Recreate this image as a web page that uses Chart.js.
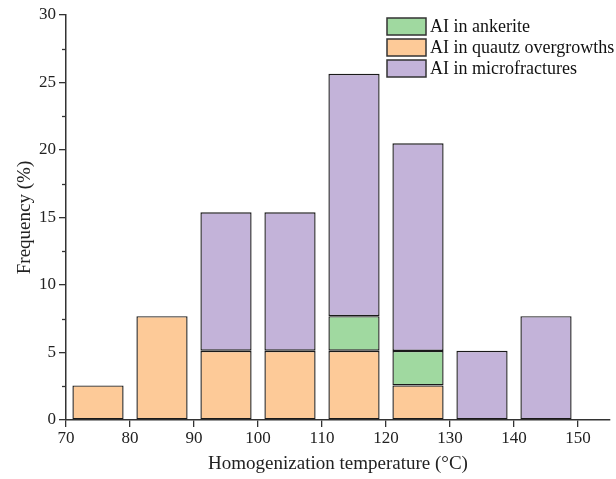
<!DOCTYPE html>
<html>
<head>
<meta charset="utf-8">
<script src="https://cdn.jsdelivr.net/npm/chart.js@4/dist/chart.umd.min.js"></script>
<style>
  html, body { margin: 0; padding: 0; background: #fff; }
  #wrap { width: 616px; height: 479px; }
</style>
</head>
<body>
<div id="wrap"><canvas id="c" width="616" height="479"></canvas></div>
<script>
// Homogenization temperature bins (bin centres, °C)
const temps = [75, 85, 95, 105, 115, 125, 135, 145];
// Frequency (%) by inclusion host
const quartz   = [2.56, 7.69, 5.13, 5.13, 5.13, 2.56, 0, 0];
const ankerite = [0, 0, 0, 0, 2.56, 2.56, 0, 0];
const micro    = [0, 0, 10.26, 10.26, 17.95, 15.38, 5.13, 7.69];
const xTicks = [70, 80, 90, 100, 110, 120, 130, 140, 150];
const yTicks = [0, 5, 10, 15, 20, 25, 30];

const labels = {
  ankerite: 'AI in ankerite',
  quartz: 'AI in quautz overgrowths',
  micro: 'AI in microfractures'
};
const colors = {
  ankerite: '#a0d9a0',
  quartz: '#fdca98',
  micro: '#c3b3d9'
};

const SERIF = '"Liberation Serif", "Times New Roman", serif';
const AXIS = '#333';

// only non-empty bins become bars
function pts(vals) {
  const out = [];
  temps.forEach((t, i) => { if (vals[i] > 0) out.push({ x: t, y: vals[i] }); });
  return out;
}

function ds(key, vals) {
  return {
    label: labels[key],
    data: pts(vals),
    backgroundColor: colors[key],
    borderColor: '#1a1a1a',
    borderWidth: 1.4,
    borderSkipped: false,
    barPercentage: 0.8,
    categoryPercentage: 1.0
  };
}

// Minor ticks on the y axis, half way between labels
const minorTicks = {
  id: 'minorTicks',
  afterDraw(chart) {
    const y = chart.scales.y;
    const ctx = chart.ctx;
    ctx.save();
    ctx.strokeStyle = AXIS;
    ctx.lineWidth = 1.3;
    for (let i = 0; i < yTicks.length - 1; i++) {
      const v = (yTicks[i] + yTicks[i + 1]) / 2;
      const py = Math.round(y.getPixelForValue(v)) + 0.5;
      ctx.beginPath();
      ctx.moveTo(y.right, py);
      ctx.lineTo(y.right - 4, py);
      ctx.stroke();
    }
    ctx.restore();
  }
};

// Legend drawn inside the plot, upper right
const boxLegend = {
  id: 'boxLegend',
  afterDraw(chart) {
    const ctx = chart.ctx;
    const order = ['ankerite', 'quartz', 'micro'];
    const x0 = 387, y0 = 18, bw = 39, bh = 17, gap = 21;
    ctx.save();
    ctx.font = '18px ' + SERIF;
    ctx.textBaseline = 'middle';
    ctx.textAlign = 'left';
    order.forEach((k, i) => {
      const yy = y0 + i * gap;
      ctx.fillStyle = colors[k];
      ctx.fillRect(x0, yy, bw, bh);
      ctx.strokeStyle = '#333';
      ctx.lineWidth = 1.5;
      ctx.strokeRect(x0, yy, bw, bh);
      ctx.fillStyle = '#111';
      ctx.fillText(labels[k], x0 + bw + 4, yy + bh / 2 + 1);
    });
    ctx.restore();
  }
};

new Chart(document.getElementById('c'), {
  type: 'bar',
  data: {
    datasets: [ds('quartz', quartz), ds('ankerite', ankerite), ds('micro', micro)]
  },
  options: {
    responsive: false,
    animation: false,
    layout: { padding: { top: 15, right: 6, left: 10, bottom: 0 } },
    plugins: { legend: { display: false }, tooltip: { enabled: false } },
    scales: {
      x: {
        type: 'linear',
        stacked: true,
        offset: false,
        min: 70,
        max: 155,
        afterBuildTicks(s) { s.ticks = xTicks.map(v => ({ value: v })); },
        afterFit(s) { s.height = 59; },
        border: { display: true, color: AXIS, width: 1.5 },
        grid: { display: true, offset: false, drawOnChartArea: false, drawTicks: true, tickLength: 7, color: AXIS, lineWidth: 1.3 },
        ticks: { color: '#222', font: { family: SERIF, size: 17 }, padding: 1, maxRotation: 0 },
        title: { display: true, text: 'Homogenization temperature (°C)', color: '#222', font: { family: SERIF, size: 19 }, padding: { top: 1 } }
      },
      y: {
        stacked: true,
        min: 0,
        max: 30,
        afterBuildTicks(s) { s.ticks = yTicks.map(v => ({ value: v })); },
        afterFit(s) { s.width = 56; },
        border: { display: true, color: AXIS, width: 1.5 },
        grid: { display: true, offset: false, drawOnChartArea: false, drawTicks: true, tickLength: 7, color: AXIS, lineWidth: 1.3 },
        ticks: { color: '#222', font: { family: SERIF, size: 17 }, padding: 3 },
        title: { display: true, text: 'Frequency (%)', color: '#222', font: { family: SERIF, size: 19 }, padding: { bottom: 2 } }
      }
    }
  },
  plugins: [minorTicks, boxLegend]
});
</script>
</body>
</html>
